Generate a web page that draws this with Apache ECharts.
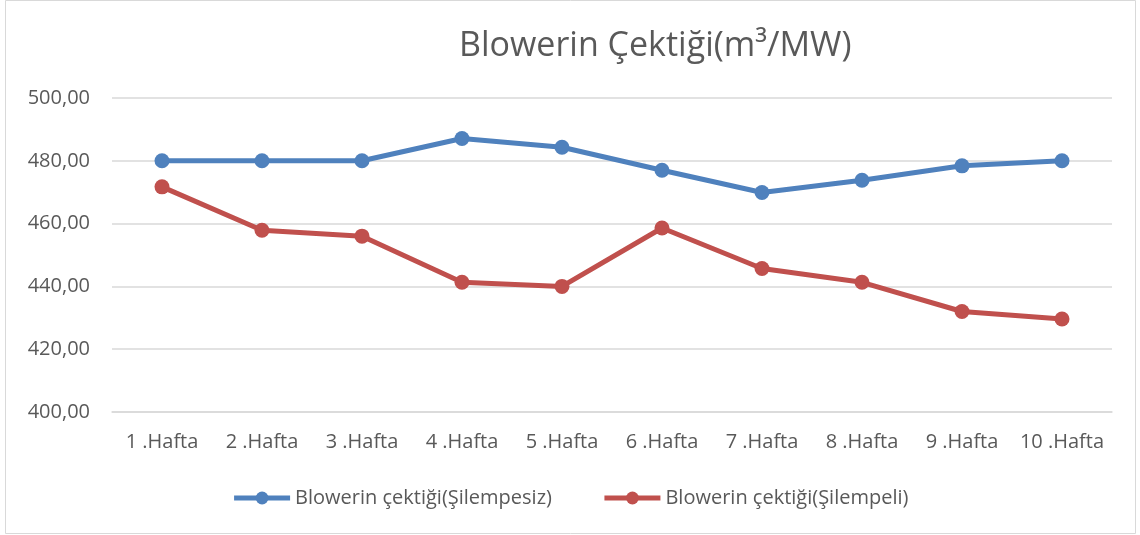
<!DOCTYPE html>
<html>
<head>
<meta charset="utf-8">
<script src="https://cdn.jsdelivr.net/npm/echarts@6/dist/echarts.min.js"></script>
<style>
  html, body { margin: 0; padding: 0; background: #fff; }
  #chart { width: 1140px; height: 535px; }
</style>
</head>
<body>
<div id="chart"></div>
<script>
'use strict';

var weeks = ['1 .Hafta', '2 .Hafta', '3 .Hafta', '4 .Hafta', '5 .Hafta',
             '6 .Hafta', '7 .Hafta', '8 .Hafta', '9 .Hafta', '10 .Hafta'];
var silempesiz = [480, 480, 480, 487.1, 484.3, 477, 469.9, 473.8, 478.4, 480];
var silempeli = [471.7, 457.9, 456, 441.3, 440, 458.6, 445.7, 441.3, 432, 429.6];
var seriesNames = ['Blowerin çektiği(Şilempesiz)', 'Blowerin çektiği(Şilempeli)'];

var FONT = 'Open Sans';
var chart = echarts.init(document.getElementById('chart'));

var option = {
    backgroundColor: '#fff',
    animation: false,
    title: {
        text: 'Blowerin Çektiği(m³/MW)',
        left: 454,
        top: 24,
        textStyle: {
            fontFamily: FONT,
            fontWeight: 'normal',
            fontSize: 34,
            color: '#595959'
        }
    },
    // thin frame around the chart
    graphic: [{
        type: 'rect',
        shape: { x: 5.5, y: 0.5, width: 1130, height: 533 },
        style: { fill: 'none', stroke: '#d9d9d9', lineWidth: 1 },
        silent: true
    }],
    legend: {
        data: seriesNames,
        left: 'center',
        top: 483,
        itemWidth: 56,
        itemHeight: 16,
        itemGap: 50,
        lineStyle: { width: 5 },
        textStyle: {
            fontFamily: FONT,
            fontSize: 20,
            color: '#595959'
        }
    },
    grid: {
        left: 112,
        right: 28,
        top: 98,
        bottom: 123
    },
    xAxis: {
        type: 'category',
        data: weeks,
        boundaryGap: true,
        axisLine: { show: true, lineStyle: { color: '#d9d9d9', width: 1.5 } },
        axisTick: { show: false },
        axisLabel: {
            interval: 0,
            margin: 20,
            fontFamily: FONT,
            fontSize: 20,
            color: '#595959'
        }
    },
    yAxis: {
        type: 'value',
        min: 400,
        max: 500,
        interval: 20,
        axisLine: { show: false },
        axisTick: { show: false },
        splitLine: { lineStyle: { color: '#d9d9d9', width: 1.5 } },
        axisLabel: {
            margin: 22,
            fontFamily: FONT,
            fontSize: 20,
            color: '#595959',
            formatter: function (v) {
                return v.toFixed(2).replace('.', ',');
            }
        }
    },
    series: [{
        name: seriesNames[0],
        type: 'line',
        data: silempesiz,
        symbol: 'circle',
        symbolSize: 15,
        lineStyle: { color: '#4f81bd', width: 5 },
        itemStyle: { color: '#4f81bd' }
    }, {
        name: seriesNames[1],
        type: 'line',
        data: silempeli,
        symbol: 'circle',
        symbolSize: 15,
        lineStyle: { color: '#c0504d', width: 5 },
        itemStyle: { color: '#c0504d' }
    }]
};

chart.setOption(option);
</script>
</body>
</html>
